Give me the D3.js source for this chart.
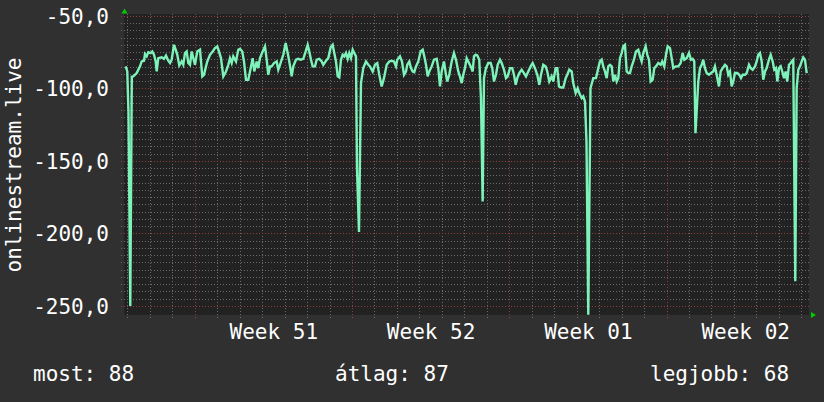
<!DOCTYPE html>
<html><head><meta charset="utf-8">
<script src="https://cdn.jsdelivr.net/npm/d3@7"></script>
<style>html,body{margin:0;padding:0;background:#303030;}svg{display:block}</style>
</head><body><svg id="c" width="824" height="402"></svg>
<script>
// ---- data ----
const weekStart = "2023-12-18T00:00:00Z";      // Monday of ISO week 51
const rangeDays = [-3.146, 27.34];             // visible window, days from weekStart
const yDomain = [-256.2, -48.8];
const yTicks = [-50, -100, -150, -200, -250];
const yMinorStep = 5;
const yLabel = "onlinestream.live";
const legendLabels = ["most", "átlag", "legjobb"];
const legendValues = [88, 87, 68];
// [days from weekStart, value]
const series = [
[-3.071,-84.9],[-3.000,-88.4],[-2.946,-117],[-2.866,-250],[-2.799,-92],[-2.733,-91.8],[-2.581,-89.5],[-2.434,-84.9],[-2.359,-81.5],[-2.256,-81],
[-2.212,-76.4],[-2.136,-78],[-2.065,-75.1],[-1.958,-75.7],[-1.887,-74.6],[-1.811,-76.9],[-1.736,-81.5],[-1.691,-88.4],[-1.620,-79.2],[-1.469,-78.7],
[-1.366,-79.7],[-1.277,-77.4],[-1.175,-81],[-1.099,-82.6],[-1.024,-80.3],[-0.921,-70],[-0.846,-73.4],[-0.774,-76.9],[-0.685,-84.2],[-0.579,-81.5],
[-0.507,-83.8],[-0.432,-75.7],[-0.356,-74.6],[-0.285,-82.6],[-0.209,-83.8],[-0.134,-74.6],[-0.062,-79.2],[0.013,-83.8],[0.116,-74.6],[0.236,-73.4],
[0.338,-91.8],[0.414,-90.7],[0.503,-84.9],[0.561,-81.5],[0.681,-76.9],[0.801,-74.6],[0.903,-72.3],[1.006,-71.1],[1.081,-74.6],[1.170,-79.2],
[1.273,-91.8],[1.393,-88.4],[1.495,-83.8],[1.571,-79.2],[1.647,-82.6],[1.718,-78],[1.838,-81.5],[1.940,-73.4],[2.016,-72.8],[2.118,-74.6],
[2.194,-81.5],[2.283,-94.1],[2.385,-94.1],[2.492,-86.1],[2.581,-79.2],[2.652,-88.4],[2.759,-81.5],[2.830,-86.1],[2.906,-79.2],[3.026,-74.6],
[3.129,-71.1],[3.204,-80.3],[3.275,-90.7],[3.351,-84.9],[3.427,-84.9],[3.529,-82.6],[3.649,-81.5],[3.720,-87.2],[3.796,-83.8],[3.943,-76.9],
[4.050,-68.8],[4.139,-75.7],[4.210,-81.5],[4.317,-91.8],[4.388,-84.9],
[4.508,-80.3],[4.610,-79.7],[4.717,-80.3],[4.833,-79.7],[4.940,-74.6],[5.029,-70],[5.100,-74.6],[5.176,-80.3],[5.251,-84.9],[5.354,-84.9],
[5.429,-80.3],[5.545,-79.7],[5.652,-81.5],[5.723,-83.8],[5.843,-81],[5.946,-79.2],[6.052,-71.8],[6.141,-70],[6.212,-75.7],[6.288,-81.5],
[6.364,-91.8],[6.435,-92.5],[6.511,-80.3],[6.586,-76.9],[6.657,-78],[6.733,-75.7],[6.809,-79.7],[6.880,-75.7],[6.956,-79.2],[7.031,-73.4],
[7.102,-75.7],[7.178,-78],[7.223,-155],[7.312,-199],[7.401,-96.4],[7.503,-86.1],[7.623,-81.5],[7.726,-83.8],[7.801,-84.9],[7.921,-88.4],
[8.024,-83.8],[8.126,-82.6],[8.215,-90.7],[8.322,-98.7],[8.424,-93],[8.545,-83.8],[8.660,-81.5],[8.767,-81],[8.869,-81.5],[8.958,-84.9],
[9.016,-80.3],[9.136,-78],[9.226,-81.5],[9.315,-90.7],[9.403,-88.4],[9.461,-83.8],[9.551,-81.5],[9.626,-86.1],[9.702,-88.4],[9.773,-88.9],
[9.849,-84.9],[9.951,-81.5],[10.058,-74.6],[10.147,-73.4],[10.218,-78],[10.294,-83.8],[10.369,-91.8],[10.440,-88.4],[10.547,-84.9],[10.650,-80.3],
[10.770,-79.7],[10.841,-86.1],[10.917,-98.7],[10.992,-88.4],[11.095,-81.5],[11.184,-90.7],[11.241,-95.3],[11.331,-90.7],[11.437,-81.5],[11.540,-75.7],
[11.629,-80.3],[11.731,-88.4],[11.807,-92],[11.882,-96.4],[11.953,-90.7],[12.029,-86.1],[12.105,-79.2],[12.176,-81.5],[12.283,-84.9],[12.372,-88.4],
[12.430,-78],[12.505,-76.9],[12.576,-77.4],[12.665,-80.3],[12.741,-107],[12.816,-178],[12.874,-93],[12.963,-86.1],[13.066,-82.6],[13.173,-82.6],
[13.244,-86.1],[13.320,-95.3],[13.409,-90.7],[13.484,-83.8],[13.587,-80.3],[13.663,-82.6],[13.765,-87.2],[13.854,-93],[13.930,-91.8],[14.032,-86.1],
[14.134,-86.1],[14.210,-90.7],[14.286,-97.6],[14.357,-93],[14.446,-89.5],[14.552,-87.2],[14.655,-89.5],[14.744,-91.8],[14.846,-88.4],[14.953,-84.9],
[15.042,-82.6],[15.144,-86.1],[15.247,-90.7],[15.336,-97.6],[15.412,-90.7],[15.514,-83.8],[15.621,-84.9],[15.692,-88.4],[15.781,-95.3],[15.888,-91.8],
[15.959,-95.3],[16.065,-86.1],[16.137,-86.1],[16.213,-98.7],[16.302,-99.4],[16.404,-99.4],[16.511,-93],[16.582,-90.7],[16.671,-87.2],[16.778,-88.4],
[16.849,-96.4],[16.956,-103.3],[17.045,-99.9],[17.116,-103.3],[17.223,-106.8],[17.294,-105.6],[17.370,-109.1],[17.437,-137],[17.517,-256],[17.615,-100],
[17.739,-93],[17.859,-93],[17.962,-86.1],[18.037,-81.5],[18.113,-80.3],[18.184,-84.9],[18.260,-88.4],[18.336,-93],[18.407,-84.9],[18.482,-83.8],
[18.558,-84.9],[18.629,-95.3],[18.705,-90.7],[18.781,-95.3],[18.852,-93],[18.927,-79.2],[19.003,-75.7],[19.074,-71.1],[19.150,-70],[19.226,-88.4],
[19.297,-89.5],[19.373,-89.5],[19.448,-84.9],[19.550,-80.3],[19.639,-74.6],[19.742,-73.4],[19.818,-78],[19.893,-81.5],[19.964,-75.7],[20.071,-71.1],
[20.142,-76.9],[20.218,-80.3],[20.294,-95.3],[20.383,-94.1],[20.454,-86.1],[20.530,-84.9],[20.632,-82.6],[20.739,-83.8],[20.810,-81.5],[20.899,-84.9],
[20.975,-76.9],[21.050,-71.1],[21.153,-72.3],[21.229,-79.2],[21.300,-86.1],[21.407,-84.9],[21.522,-84.9],[21.629,-82.6],[21.718,-75.7],[21.789,-80.3],
[21.896,-79.2],[21.998,-75.7],[22.087,-80.3],[22.163,-79.7],[22.234,-81.5],[22.287,-131],[22.412,-95.3],[22.488,-86.1],[22.563,-83.8],[22.634,-80.3],
[22.710,-86.1],[22.786,-89.5],[22.888,-90.7],[22.977,-89.5],[23.079,-88.4],[23.155,-84.9],[23.231,-90.7],[23.333,-98.7],[23.409,-88.4],[23.498,-86.1],
[23.600,-83.8],[23.676,-84.9],[23.747,-90.7],[23.823,-88.4],[23.898,-98.7],[23.969,-95.3],[24.045,-89.5],[24.148,-89.5],[24.237,-90.7],[24.313,-93],
[24.389,-90.7],[24.491,-90.7],[24.567,-89.5],[24.669,-83.8],[24.745,-86.1],[24.834,-87.2],[24.936,-84.9],[25.012,-81.5],[25.083,-76.9],[25.158,-75.7],
[25.234,-81.5],[25.305,-94.1],[25.381,-88.4],[25.457,-86.1],[25.559,-80.3],[25.635,-76.9],[25.724,-81.5],[25.795,-87.2],[25.871,-86.1],[25.929,-95.3],
[26.004,-86.1],[26.080,-84.9],[26.151,-88.4],[26.227,-93],[26.302,-88.4],[26.373,-95.3],[26.449,-83.8],[26.525,-82.6],[26.596,-81],[26.640,-80.3],
[26.729,-233],[26.791,-99.9],[26.863,-87.2],[26.938,-84.9],[27.014,-81.5],[27.085,-78.7],[27.161,-80.3],[27.237,-89.5]
];

// ---- drawing ----
const W = 824, H = 402;
const P = {left: 124, right: 809, top: 14, bottom: 315};
const FONT = "'DejaVu Sans Mono', monospace";
const DAY = 864e5;
const base = new Date(weekStart).getTime();
const toDate = d => new Date(base + d * DAY);

const x = d3.scaleUtc().domain(rangeDays.map(toDate)).range([P.left, P.right]);
const y = d3.scaleLinear().domain(yDomain).range([P.bottom, P.top]);

const svg = d3.select("#c");
svg.append("rect").attr("width", W).attr("height", H).attr("fill", "#303030");
svg.append("rect").attr("x", P.left).attr("y", P.top)
  .attr("width", P.right - P.left).attr("height", P.bottom - P.top).attr("fill", "#222222");

const minorCol = "#6a6a6a", majorCol = "#8e3c3c";
const g = svg.append("g").attr("shape-rendering", "crispEdges");
const px = v => Math.round(v) + 0.5;

// horizontal grid
const minorY = d3.range(yTicks[yTicks.length-1], yTicks[0] + 0.01, yMinorStep).filter(v => !yTicks.includes(v));
g.selectAll(".hmin").data(minorY).join("line")
  .attr("x1", P.left - 3).attr("x2", P.right).attr("y1", d => px(y(d))).attr("y2", d => px(y(d)))
  .attr("stroke", minorCol).attr("stroke-dasharray", "1,2");
// vertical grid
const [t0, t1] = x.domain();
const days = d3.utcDay.range(t0, t1).filter(d => d.getUTCDay() !== 1);
const mondays = d3.utcMonday.range(t0, t1);
g.selectAll(".vmin").data(days).join("line")
  .attr("x1", d => px(x(d))).attr("x2", d => px(x(d)))
  .attr("y1", P.top).attr("y2", P.bottom + 3)
  .attr("stroke", minorCol).attr("stroke-dasharray", "1,2");
g.selectAll(".hmaj").data(yTicks).join("line")
  .attr("x1", P.left - 3).attr("x2", P.right).attr("y1", d => px(y(d))).attr("y2", d => px(y(d)))
  .attr("stroke", majorCol).attr("stroke-dasharray", "1,2");
g.selectAll(".vmaj").data(mondays).join("line")
  .attr("x1", d => px(x(d))).attr("x2", d => px(x(d)))
  .attr("y1", P.top).attr("y2", P.bottom + 3)
  .attr("stroke", majorCol).attr("stroke-dasharray", "1,2");

// data line
const line = d3.line().x(d => x(toDate(d[0]))).y(d => y(d[1])).curve(d3.curveLinear);
svg.append("path").datum(series).attr("d", line)
  .attr("fill", "none").attr("stroke", "#7df3b9").attr("stroke-width", 2.4).attr("stroke-linejoin", "miter");

// arrows
svg.append("path").attr("d", `M${P.left - 2.5},${P.top - 0.5} L${P.left + 3.5},${P.top - 0.5} L${P.left + 0.5},${P.top - 5.5} Z`).attr("fill", "#00cc00");
svg.append("path").attr("d", `M${P.right + 2},${P.bottom - 3} L${P.right + 2},${P.bottom + 3} L${P.right + 7},${P.bottom} Z`).attr("fill", "#00cc00");

// y axis labels
const loc = d3.formatLocale({decimal: ",", thousands: ".", grouping: [3], currency: ["", ""], minus: "-"});
const yAxis = d3.axisLeft(y).tickValues(yTicks).tickFormat(loc.format(".1f")).tickSize(0).tickPadding(0);
const ya = svg.append("g").attr("transform", `translate(${P.left - 15},0)`).call(yAxis);
ya.select(".domain").remove();
ya.selectAll("text").attr("fill", "#ffffff").attr("font-family", FONT).attr("font-size", 21).attr("dy", "0.36em");

// x axis labels (centered mid-week)
const mids = mondays.concat([d3.utcMonday.offset(mondays[0], -1)])
  .map(m => new Date(m.getTime() + 3.5 * DAY)).filter(d => d > t0 && d < t1).sort((a, b) => a - b);
const xAxis = d3.axisBottom(x).tickValues(mids).tickFormat(d3.utcFormat("Week %V")).tickSize(0).tickPadding(0);
const xa = svg.append("g").attr("transform", `translate(0,${P.bottom})`).call(xAxis);
xa.select(".domain").remove();
xa.selectAll("text").attr("fill", "#ffffff").attr("font-family", FONT).attr("font-size", 21).attr("dy", null).attr("y", 24);

// y title
svg.append("text").attr("transform", "translate(21,165) rotate(-90)").attr("text-anchor", "middle")
  .attr("fill", "#ffffff").attr("font-family", FONT).attr("font-size", 21).text(yLabel);

// legend
const legX = [33, 335, 650];
svg.selectAll(".leg").data(legendLabels).join("text")
  .attr("x", (d, i) => legX[i]).attr("y", 381)
  .attr("fill", "#ffffff").attr("font-family", FONT).attr("font-size", 21)
  .text((d, i) => `${d}: ${legendValues[i]}`);
</script>
</body></html>
